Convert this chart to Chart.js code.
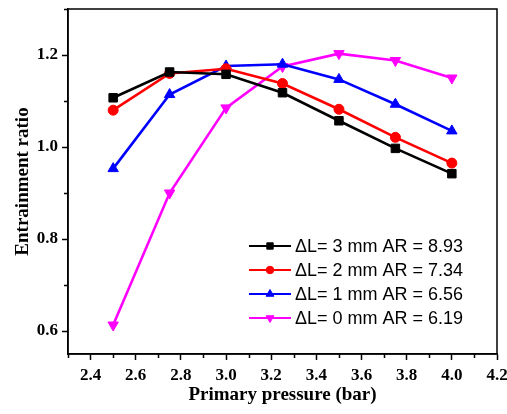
<!DOCTYPE html>
<html lang="en">
<head>
  <meta charset="UTF-8">
  <title>Entrainment ratio vs primary pressure</title>
  <script src="https://cdn.jsdelivr.net/npm/chart.js"></script>
  <style>
    html, body { margin: 0; padding: 0; background: #fff; }
    #wrap { width: 507px; height: 414px; }
  </style>
</head>
<body>
  <div id="wrap"><canvas id="erChart"></canvas></div>

  <script>
    // primary pressure (bar)
    const pressure = [2.5, 2.75, 3.0, 3.25, 3.5, 3.75, 4.0];

    const er3mm = [1.107, 1.163, 1.158, 1.118, 1.057, 0.997, 0.942];
    const er2mm = [1.080, 1.160, 1.170, 1.138, 1.082, 1.021, 0.965];
    const er1mm = [0.953, 1.114, 1.176, 1.180, 1.147, 1.093, 1.035];
    const er0mm = [0.613, 0.900, 1.085, 1.175, 1.203, 1.188, 1.150];

    const seriesLabels = [
      'ΔL= 3 mm AR = 8.93',
      'ΔL= 2 mm AR = 7.34',
      'ΔL= 1 mm AR = 6.56',
      'ΔL= 0 mm AR = 6.19'
    ];

    const xTicks = [2.4, 2.6, 2.8, 3.0, 3.2, 3.4, 3.6, 3.8, 4.0, 4.2];
    const yTicks = [0.6, 0.8, 1.0, 1.2];

    const toPoints = ys => ys.map((y, i) => ({ x: pressure[i], y: y }));

    function series(label, values, color, style, radius, rotation) {
      return {
        label: label,
        data: toPoints(values),
        borderColor: color,
        backgroundColor: color,
        borderWidth: 2.6,
        pointStyle: style,
        pointRadius: radius,
        pointRotation: rotation || 0,
        pointBorderWidth: 1,
        pointHoverRadius: radius
      };
    }

    // box round the plot area, minor ticks and the legend in the lower right
    const framePlugin = {
      id: 'frame',
      afterDraw(chart) {
        const ctx = chart.ctx;
        const a = chart.chartArea;
        const xs = chart.scales.x, ys = chart.scales.y;
        ctx.save();
        ctx.strokeStyle = '#000';
        ctx.lineWidth = 1.5;
        ctx.strokeRect(a.left, a.top, a.right - a.left, a.bottom - a.top);

        ctx.lineWidth = 1.5;
        ctx.beginPath();
        for (let v = 2.3; v < 4.21; v += 0.2) {
          const px = Math.round(xs.getPixelForValue(v)) + 0.5;
          ctx.moveTo(px, a.bottom); ctx.lineTo(px, a.bottom + 4);
        }
        for (let v = 0.7; v < 1.31; v += 0.2) {
          const py = Math.round(ys.getPixelForValue(v)) + 0.5;
          ctx.moveTo(a.left, py); ctx.lineTo(a.left - 4, py);
        }
        ctx.stroke();

        const lx = 249, ly = 246, row = 24;
        ctx.font = '18px "Liberation Sans", Arial, sans-serif';
        ctx.textBaseline = 'middle';
        ctx.textAlign = 'left';
        chart.data.datasets.forEach((ds, i) => {
          const y = ly + i * row;
          ctx.strokeStyle = ds.borderColor;
          ctx.lineWidth = 2;
          ctx.beginPath();
          ctx.moveTo(lx, y); ctx.lineTo(lx + 42, y);
          ctx.stroke();
          ctx.fillStyle = ds.backgroundColor;
          ctx.strokeStyle = ds.borderColor;
          ctx.lineWidth = 1;
          Chart.helpers.drawPoint(ctx, {
            pointStyle: ds.pointStyle,
            rotation: ds.pointRotation,
            radius: ds.pointRadius * 0.75,
            borderWidth: 1
          }, lx + 21, y);
          ctx.fillStyle = '#000';
          ctx.fillText(ds.label, lx + 46, y + 1);
        });
        ctx.restore();
      }
    };

    const tickFont = { family: '"Liberation Serif", "Times New Roman", serif', size: 17, weight: 'bold' };
    const titleFont = { family: '"Liberation Serif", "Times New Roman", serif', size: 19, weight: 'bold' };

    new Chart(document.getElementById('erChart'), {
      type: 'line',
      data: {
        datasets: [
          series(seriesLabels[0], er3mm, '#000000', 'rect', 6),
          series(seriesLabels[1], er2mm, '#ff0000', 'circle', 5),
          series(seriesLabels[2], er1mm, '#0000ff', 'triangle', 6),
          series(seriesLabels[3], er0mm, '#ff00ff', 'triangle', 6, 180)
        ]
      },
      options: {
        responsive: true,
        maintainAspectRatio: false,
        animation: false,
        layout: { padding: { top: 9, right: 10, left: 0, bottom: 0 } },
        plugins: {
          legend: { display: false },
          tooltip: { enabled: false }
        },
        scales: {
          x: {
            type: 'linear',
            min: 2.3,
            max: 4.2,
            afterBuildTicks: s => { s.ticks = xTicks.map(v => ({ value: v })); },
            afterFit: s => { s.height = 60; s.paddingLeft = 0; s.paddingRight = 0; },
            grid: { drawOnChartArea: false, drawTicks: true, tickLength: 6, tickWidth: 1.5, tickColor: '#000' },
            border: { display: true, color: '#000', width: 1.5 },
            ticks: {
              color: '#000',
              font: tickFont,
              padding: 5,
              maxRotation: 0,
              callback: v => v.toFixed(1)
            },
            title: {
              display: true,
              text: 'Primary pressure (bar)',
              color: '#000',
              font: titleFont,
              padding: { top: 0, bottom: 8 }
            }
          },
          y: {
            min: 0.55,
            max: 1.3,
            afterBuildTicks: s => { s.ticks = yTicks.map(v => ({ value: v })); },
            afterFit: s => { s.width = 68; s.paddingTop = 0; s.paddingBottom = 0; },
            grid: { drawOnChartArea: false, drawTicks: true, tickLength: 6, tickWidth: 1.5, tickColor: '#000' },
            border: { display: true, color: '#000', width: 1.5 },
            ticks: {
              color: '#000',
              font: tickFont,
              padding: 4,
              callback: v => v.toFixed(1)
            },
            title: {
              display: true,
              text: 'Entrainment ratio',
              color: '#000',
              font: titleFont,
              padding: { top: 12, bottom: 0 }
            }
          }
        }
      },
      plugins: [framePlugin]
    });
  </script>
</body>
</html>
